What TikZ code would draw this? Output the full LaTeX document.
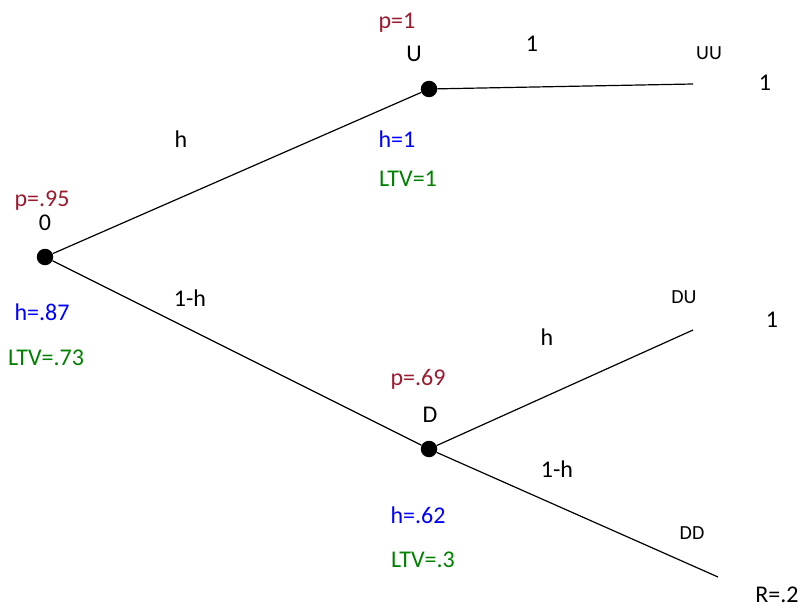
\documentclass[tikz,border=0pt]{standalone}
\usepackage{fontspec}
\setmainfont{Carlito}
\definecolor{pcol}{HTML}{9B1B30}
\definecolor{hcol}{HTML}{0000FF}
\definecolor{lcol}{HTML}{008000}
\begin{document}
\begin{tikzpicture}[x=1pt,y=-1pt,
  dot/.style={circle,fill=black,minimum size=16.5pt,inner sep=0pt},
  lbl/.style={anchor=base,inner sep=0pt,font=\fontsize{24}{28}\selectfont},
  small/.style={anchor=base,inner sep=0pt,font=\fontsize{20}{24}\selectfont},
  plbl/.style={lbl,text=pcol},
  hlbl/.style={lbl,text=hcol},
  llbl/.style={lbl,text=lcol},
  edge/.style={line width=1.2pt}]
\useasboundingbox (0,0) rectangle (802,607);
\node[dot] (n0) at (45,257) {};
\node[dot] (nU) at (429,89) {};
\node[dot] (nD) at (429,449) {};
\coordinate (eUU) at (693,84);
\coordinate (eDU) at (693,330);
\coordinate (eDD) at (718,577);
\draw[edge] (n0) -- (nU);
\draw[edge] (n0) -- (nD);
\draw[edge] (nU) -- (eUU);
\draw[edge] (nD) -- (eDU);
\draw[edge] (nD) -- (eDD);
% node 0
\node[plbl] (p0) at (42,206) {p=.95};
\node[lbl] (t0) at (45,230) {0};
\node[hlbl] (h0) at (42,320) {h=.87};
\node[llbl] (l0) at (46,365) {LTV=.73};
% node U
\node[plbl] (pU) at (397,29) {p=1};
\node[lbl] (tU) at (414,62) {U};
\node[hlbl] (hU) at (397,147) {h=1};
\node[llbl] (lU) at (408,186) {LTV=1};
% node D
\node[plbl] (pD) at (418,385) {p=.69};
\node[lbl] (tD) at (430,422) {D};
\node[hlbl] (hD) at (418,523) {h=.62};
\node[llbl] (lD) at (423,567) {LTV=.3};
% edge labels
\node[lbl] (e1) at (181,147) {h};
\node[lbl] (e2) at (190,306) {1-h};
\node[lbl] (e3) at (532,52) {1};
\node[lbl] (e4) at (547,345) {h};
\node[lbl] (e5) at (557,477) {1-h};
% leaves
\node[small] (uu) at (709,60) {UU};
\node[lbl] (vuu) at (765,91) {1};
\node[small] (du) at (684,303) {DU};
\node[lbl] (vdu) at (772,327) {1};
\node[small] (dd) at (692,539) {DD};
\node[lbl] (vdd) at (777,602) {R=.2};
\end{tikzpicture}
\end{document}
